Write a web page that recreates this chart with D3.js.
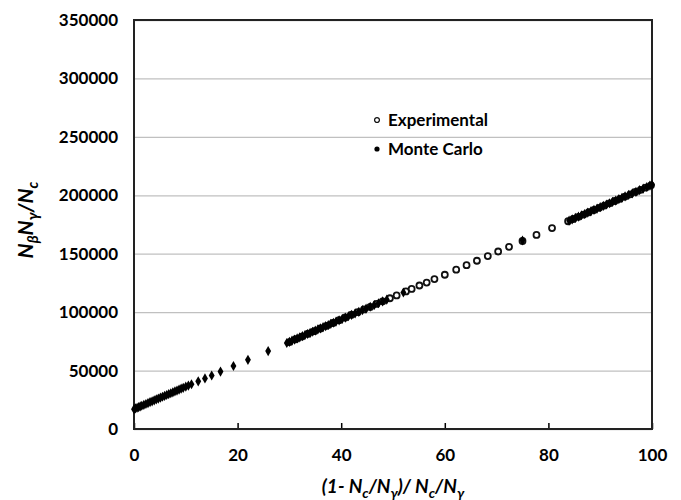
<!DOCTYPE html>
<html>
<head>
<meta charset="utf-8">
<script src="https://cdn.jsdelivr.net/npm/d3@7"></script>
<style>
    body { margin: 0; background: #fff; }
    text { font-family: Lato, "Open Sans", sans-serif; font-weight: bold; fill: #000; }
</style>
</head>
<body>
<div id="chart"></div>
<script>
// Experimental points (open circles)
var expX = [30.0, 31.2, 32.4, 33.6, 34.8, 36.0, 37.2, 38.4, 39.6, 40.8, 42.0, 43.2, 44.4, 45.6, 46.8, 48.0, 49.4,
            50.7, 52.5, 53.6, 55.1, 56.5, 58.0, 60.0, 62.2, 64.2, 66.2, 68.3, 70.3, 72.4, 75.0, 77.7, 80.7,
            83.8, 84.8, 85.8, 86.8, 87.8, 88.8, 89.8, 90.8, 91.8, 92.8, 93.8, 94.8, 95.8, 96.8, 97.8, 98.8, 99.8];
var expY = [74400, 76800, 79100, 81500, 83700, 86000, 88300, 90700, 93100, 95400, 97800, 100000, 102300, 104500, 107000, 109300, 111900,
            114300, 117700, 119900, 122800, 125300, 128300, 132000, 136300, 140200, 144000, 148000, 151900, 155900, 160900, 166100, 171900,
            177800, 179700, 181600, 183500, 185500, 187400, 189300, 191200, 193100, 195100, 197000, 198900, 200800, 202800, 204700, 206600, 208500];

// Monte Carlo points (filled diamonds)
var mcX = [0.0, 0.3, 0.6, 0.9, 1.2, 1.5, 1.9, 2.3, 2.7, 3.1, 3.5, 3.9, 4.3, 4.7, 5.1, 5.5, 5.9, 6.3, 6.7, 7.1, 7.5, 7.9, 8.3, 8.7, 9.1, 9.5, 10.0, 10.5, 11.1,
           12.4, 13.7, 15.0, 16.7, 19.2, 22.0, 25.9,
           29.5, 30.0, 30.5, 31.0, 31.5, 32.0, 32.5, 33.0, 33.5, 34.0, 34.5, 35.0, 35.5, 36.0, 36.5, 37.0, 37.5, 38.0, 38.5, 39.0,
           39.6, 40.2, 40.8, 41.4, 42.0, 42.7, 43.4, 44.1, 44.8, 45.6, 46.4, 47.2, 48.0, 48.8,
           52.0, 75.0,
           84.0, 84.6, 85.2, 85.8, 86.4, 87.0, 87.6, 88.2, 88.8, 89.4, 90.0, 90.6, 91.2, 91.8, 92.4, 93.0, 93.6, 94.2, 94.8,
           95.5, 96.2, 96.9, 97.6, 98.3, 99.0, 99.6, 100.0];
var mcY = [17000, 17600, 18200, 18700, 19300, 19900, 20600, 21400, 22200, 23000, 23700, 24500, 25300, 26000, 26800, 27600, 28300, 29100, 29900, 30600, 31400, 32200, 32900, 33700, 34500, 35200, 36200, 37200, 38300,
           40800, 43300, 45800, 49100, 53900, 59200, 66700,
           73600, 74600, 75600, 76500, 77500, 78400, 79400, 80400, 81300, 82300, 83200, 84200, 85200, 86100, 87100, 88000, 89000, 90000, 90900, 91900,
           93000, 94200, 95300, 96500, 97600, 99000, 100300, 101700, 103000, 104600, 106100, 107600, 109200, 110700,
           116800, 161300,
           178300, 179400, 180600, 181700, 182900, 184000, 185200, 186300, 187500, 188600, 189800, 190900, 192100, 193200, 194400, 195500, 196700, 197800, 199000,
           200300, 201700, 203000, 204400, 205700, 207100, 208200, 209000];

var xTicks = [0, 20, 40, 60, 80, 100];
var yTicks = [0, 50000, 100000, 150000, 200000, 250000, 300000, 350000];
var legendNames = ["Experimental", "Monte Carlo"];

var width = 681, height = 500;
var margin = {top: 20, right: 29, bottom: 71, left: 134};
var w = width - margin.left - margin.right,
    h = height - margin.top - margin.bottom;

var svg = d3.select("#chart")
            .append("svg")
            .attr("width", width)
            .attr("height", height);

var g = svg.append("g")
           .attr("transform", `translate(${margin.left}, ${margin.top})`);

var x = d3.scaleLinear().domain([0, 100]).range([0, w]);
var y = d3.scaleLinear().domain([0, 350000]).range([h, 0]);

// horizontal gridlines
g.append("g")
 .call(d3.axisLeft(y).tickValues(yTicks).tickSize(-w).tickFormat(""))
 .call(a => a.select(".domain").remove())
 .selectAll("line")
 .attr("stroke", "#c0c0c0")
 .attr("stroke-width", 1.3);

// y tick labels
g.append("g")
 .call(d3.axisLeft(y).tickValues(yTicks).tickSize(0).tickPadding(16).tickFormat(d3.format("d")))
 .call(a => a.select(".domain").remove())
 .selectAll("text")
 .style("font-size", "17px");

// x axis: ticks point inward
g.append("g")
 .attr("transform", `translate(0, ${h})`)
 .call(d3.axisBottom(x).tickValues(xTicks).tickSize(-6).tickPadding(20))
 .call(a => a.select(".domain").remove())
 .call(a => a.selectAll("line").attr("stroke", "#000").attr("stroke-width", 1.5))
 .selectAll("text")
 .style("font-size", "17px");

// frame
g.append("rect")
 .attr("width", w)
 .attr("height", h)
 .attr("fill", "none")
 .attr("stroke", "#222")
 .attr("stroke-width", 2);

// experimental series
g.append("g")
 .selectAll("circle")
 .data(expX.map((d, i) => [d, expY[i]]))
 .join("circle")
 .attr("cx", d => x(d[0]))
 .attr("cy", d => y(d[1]))
 .attr("r", 3)
 .attr("fill", "#fff")
 .attr("stroke", "#111")
 .attr("stroke-width", 1.8);

// monte carlo series
var diamond = d3.symbol().type(d3.symbolDiamond).size(30);
g.append("g")
 .selectAll("path")
 .data(mcX.map((d, i) => [d, mcY[i]]))
 .join("path")
 .attr("d", diamond)
 .attr("transform", d => `translate(${x(d[0])}, ${y(d[1])})`)
 .attr("fill", "#000");

// legend
var legend = svg.append("g")
                .attr("transform", "translate(377, 120)");
legend.append("circle")
      .attr("r", 2.4)
      .attr("fill", "#fff")
      .attr("stroke", "#111")
      .attr("stroke-width", 1.3);
legend.append("circle")
      .attr("cy", 29)
      .attr("r", 2.6)
      .attr("fill", "#000");
legend.selectAll("text")
      .data(legendNames)
      .join("text")
      .attr("x", 11)
      .attr("y", (d, i) => i * 29)
      .attr("dy", "0.35em")
      .style("font-size", "17px")
      .text(d => d);

// axis titles
var yTitle = svg.append("text")
                .attr("transform", "translate(26, 220) rotate(-90)")
                .attr("text-anchor", "middle")
                .attr("dy", "0.35em")
                .style("font-size", "21px")
                .style("font-style", "italic");
yTitle.append("tspan").text("N");
yTitle.append("tspan").attr("dy", "5").style("font-size", "15px").text("β");
yTitle.append("tspan").attr("dy", "-5").text("N");
yTitle.append("tspan").attr("dy", "5").style("font-size", "15px").text("γ");
yTitle.append("tspan").attr("dy", "-5").text("/N");
yTitle.append("tspan").attr("dy", "5").style("font-size", "15px").text("c");

var xTitle = svg.append("text")
                .attr("x", margin.left + w / 2)
                .attr("y", 486)
                .attr("text-anchor", "middle")
                .attr("dy", "0.35em")
                .style("font-size", "19px")
                .style("font-style", "italic");
xTitle.append("tspan").text("(1- N");
xTitle.append("tspan").attr("dy", "5").style("font-size", "14px").text("c");
xTitle.append("tspan").attr("dy", "-5").text("/N");
xTitle.append("tspan").attr("dy", "5").style("font-size", "14px").text("γ");
xTitle.append("tspan").attr("dy", "-5").text(")/  N");
xTitle.append("tspan").attr("dy", "5").style("font-size", "14px").text("c");
xTitle.append("tspan").attr("dy", "-5").text("/N");
xTitle.append("tspan").attr("dy", "5").style("font-size", "14px").text("γ");
</script>
</body>
</html>
